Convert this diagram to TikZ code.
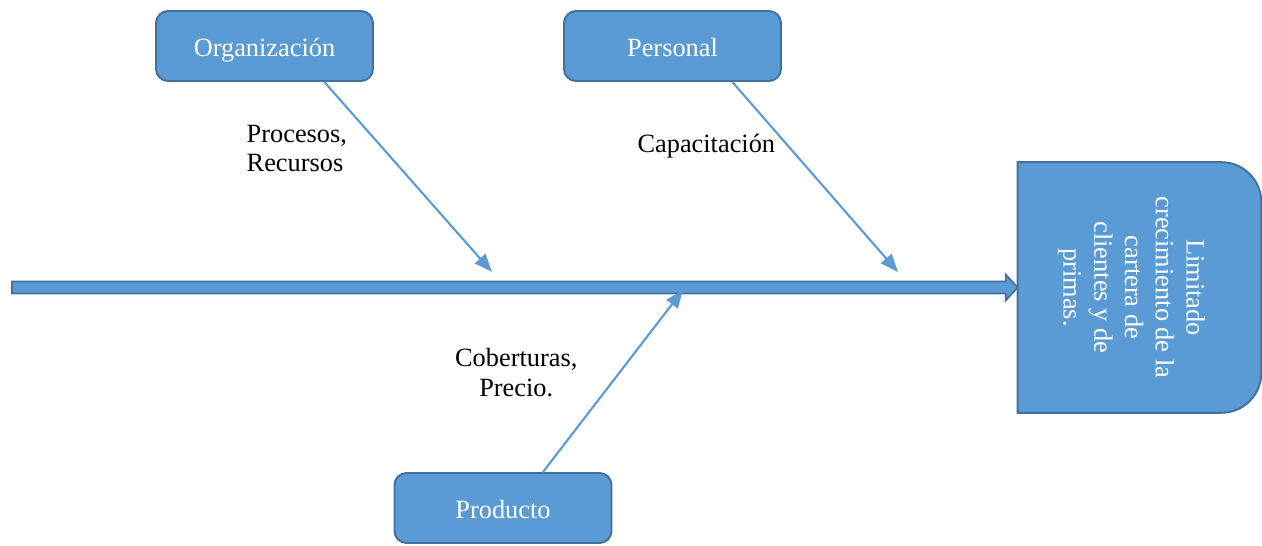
\documentclass[tikz,border=0pt]{standalone}
\usepackage{fontspec}
\setmainfont{Liberation Serif}
\usetikzlibrary{arrows.meta,positioning,calc}
\definecolor{boxblue}{HTML}{5B9BD5}
\definecolor{boxedge}{HTML}{41719C}

\begin{document}
\begin{tikzpicture}[
    x=0.02cm, y=0.02cm,
    cause/.style={rectangle, rounded corners=0.24cm, draw=boxedge, fill=boxblue, line width=1.1pt, minimum width=4.34cm, minimum height=1.4cm, text height=14.5pt, text depth=3pt, text=white, font=\fontsize{15}{17}\selectfont},
    effect/.style={draw=boxedge, fill=boxblue, line width=1.1pt},
    spine/.style={draw=boxedge, fill=boxblue, line width=1pt},
    bone/.style={draw=boxblue, line width=1.2pt, -{Triangle[length=3.6mm, width=2.8mm]}},
    lbl/.style={inner sep=0pt, font=\fontsize{15}{17}\selectfont},
]
    \useasboundingbox (0,0) rectangle (1262,545);
    \node[cause] (org) at (264.5,499) {Organización};
    \node[cause] (pers) at (672.5,499) {Personal};
    \node[cause] (prod) at (503,37) {Producto};
    \node[minimum width=4.86cm, minimum height=5cm, inner sep=0pt] (head) at (1139.5,257.5) {};

    % spine
    \coordinate (tail) at (12,257.5);
    \draw[spine] ($(tail)+(0,6)$) -- ($(head.west)+(-12,6)$) -- ($(head.west)+(-12,13)$) -- (head.west)
        -- ($(head.west)+(-12,-13)$) -- ($(head.west)+(-12,-6)$) -- ($(tail)+(0,-6)$) -- cycle;

    % effect box
    \draw[effect] (head.north west) -- ([xshift=-0.8cm]head.north east) arc[start angle=90, end angle=0, radius=0.8cm]
        -- ([yshift=0.8cm]head.south east) arc[start angle=0, end angle=-90, radius=0.8cm] -- (head.south west) -- cycle;
    \node[lbl, text=white, rotate=-90, align=center, font=\fontsize{15}{17.5}\selectfont] (headtxt) at ([xshift=-0.16cm]head.center)
        {Limitado\\crecimiento de la\\cartera de\\clientes y de\\primas.};

    % bones
    \coordinate (o-end) at (492,273);
    \coordinate (p-end) at (898,273);
    \coordinate (q-end) at (683,255);
    \draw[bone] (org.-31) -- node[lbl, pos=0.35, left=0.7cm, align=left] (proc) {Procesos,\\Recursos} (o-end);
    \draw[bone] (pers.-31) -- node[lbl, pos=0.337, left=0.24cm] (capa) {Capacitación} (p-end);
    \draw[bone] (prod.42) -- node[lbl, pos=0.546, left=0.82cm, align=center] (cobe) {Coberturas,\\Precio.} (q-end);
\end{tikzpicture}
\end{document}
